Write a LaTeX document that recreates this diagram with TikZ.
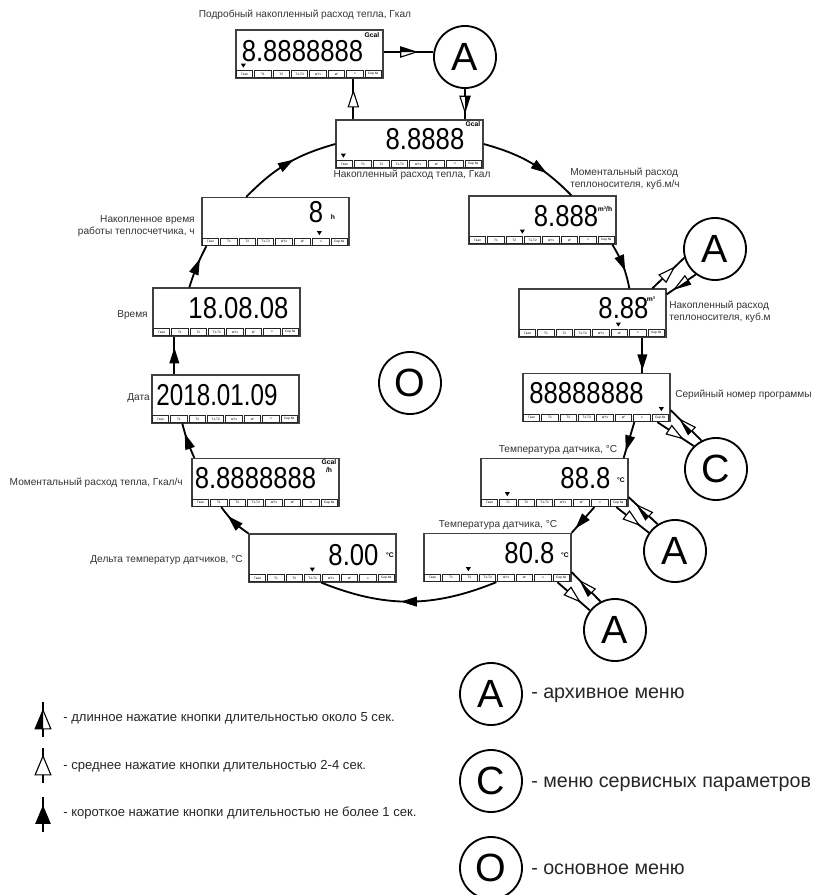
\documentclass[tikz,border=0pt]{standalone}
\usepackage{fontspec}
\setmainfont{Liberation Sans}
\usetikzlibrary{calc,decorations.markings}

\tikzset{
  tiplen/.store in=\tipl, tiplen=5.6pt,
  tipwid/.store in=\tipw, tipwid=3.6pt,
  % short press: filled triangle
  shortpress/.style={postaction={decorate,decoration={markings,mark=at position #1 with {
      \fill (\tipl,0pt) -- (-\tipl,\tipw) -- (-\tipl,-\tipw) -- cycle;}}}},
  shortpress/.default=0.5,
  % medium press: open triangle
  midpress/.style={postaction={decorate,decoration={markings,mark=at position #1 with {
      \filldraw[fill=white,line width=0.8pt] (\tipl,0pt) -- (-\tipl,\tipw) -- (-\tipl,-\tipw) -- cycle;}}}},
  midpress/.default=0.5,
  % long press: half filled triangle
  longpress/.style={postaction={decorate,decoration={markings,mark=at position #1 with {
      \filldraw[fill=white,line width=0.8pt] (\tipl,0pt) -- (-\tipl,\tipw) -- (-\tipl,-\tipw) -- cycle;
      \fill (\tipl,0pt) -- (-\tipl,\tipw) -- (-\tipl,0pt) -- cycle;}}}},
  longpress/.default=0.5,
  conn/.style={line width=1.3pt},
  lcdbox/.style={draw=black!75,line width=0.9pt,minimum width=3.675cm,minimum height=1.2cm,inner sep=0pt},
  lcdcell/.style={draw=black!85,line width=0.6pt,minimum width=0.41cm,minimum height=0.17cm,inner sep=0pt,
      font=\fontsize{2.3}{2.5}\selectfont},
  digits/.style={font=\fontsize{21.5}{22}\selectfont,inner sep=0pt},
  unit/.style={font=\bfseries\fontsize{4.8}{5.2}\selectfont,inner sep=0pt},
  caption/.style={font=\fontsize{7.2}{8.6}\selectfont,text=black!80,inner sep=0pt},
  menu/.style={circle,draw,line width=1.3pt,minimum size=1.55cm,inner sep=0pt,font=\fontsize{28}{28}\selectfont},
  legendtext/.style={font=\fontsize{9.3}{11}\selectfont,text=black!85,inner sep=0pt,anchor=west},
  menutext/.style={font=\fontsize{14}{16}\selectfont,text=black!85,inner sep=0pt,anchor=west}
}

% display with the strip of parameter cells
\newcommand{\lcd}[2]{%
  \node[lcdbox] (#1) at (#2) {};
  \foreach \k/\lab in {1/Гкал,2/T1,3/T2,4/T1-T2,5/{м³/ч},6/м³,7/ч,8/Сер.№}
    \node[lcdcell] (#1-c\k) at ($(#1.south west)+(18.375*\k-9.19,-4.5)$) {\lab};
}
% small marker above the active cell
\newcommand{\lcdmark}[2]{\fill ($(#1.south west)+(#2,-11)$) -- ++(-2.5,-4) -- ++(5,0) -- cycle;}
\newcommand{\seg}[1]{\scalebox{0.85}[1]{#1}}

\begin{document}
\begin{tikzpicture}[x=0.025cm,y=-0.025cm]
\useasboundingbox (0,0) rectangle (814,895);

% the displays
\lcd{b1}{309.5,54}
\lcd{b2}{409.5,144}
\lcd{b3}{542.5,220}
\lcd{b4}{592.5,313}
\lcd{b5}{596.5,397.5}
\lcd{b6}{554.5,482.5}
\lcd{b7}{497.5,557.5}
\lcd{b8}{322.5,558}
\lcd{b9}{265.5,482.5}
\lcd{b10}{225.5,399}
\lcd{b11}{226.5,312}
\lcd{b12}{275.5,221.5}

% values and units
\node[digits] (b1-val) at (302.5,51) {\seg{8.8888888}};
\node[unit] (b1-unit) at (372,35) {Gcal};
\node[digits] (b2-val) at (425,139) {\seg{8.8888}};
\node[unit] (b2-unit) at (473,124) {Gcal};
\node[digits] (b3-val) at (566,216) {\seg{8.888}};
\node[unit] (b3-unit) at (605,209) {m³/h};
\node[digits] (b4-val) at (623.5,308) {\seg{8.88}};
\node[unit] (b4-unit) at (651,299) {m³};
\node[digits] (b5-val) at (586.5,393) {\seg{88888888}};
\node[digits] (b6-val) at (585.5,478) {\seg{88.8}};
\node[unit] (b6-unit) at (621,480) {°C};
\node[digits] (b7-val) at (529.5,553) {\seg{80.8}};
\node[unit] (b7-unit) at (565,555) {°C};
\node[digits] (b8-val) at (353.5,555) {\seg{8.00}};
\node[unit] (b8-unit) at (390,555) {°C};
\node[digits] (b9-val) at (255.5,478) {\seg{8.8888888}};
\node[unit,align=center] (b9-unit) at (329,466) {Gcal\\/h};
\node[digits] (b10-val) at (217,395) {\scalebox{0.8}[1]{2018.01.09}};
\node[digits] (b11-val) at (238.5,308) {\seg{18.08.08}};
\node[digits] (b12-val) at (316,212) {\seg{8}};
\node[unit] (b12-unit) at (333,217) {h};

\lcdmark{b1}{8}
\lcdmark{b2}{8}
\lcdmark{b3}{54}
\lcdmark{b4}{100}
\lcdmark{b5}{139}
\lcdmark{b6}{27}
\lcdmark{b7}{45}
\lcdmark{b8}{64}
\lcdmark{b12}{118}

% captions
\node[caption] (l1) at (305,15) {Подробный накопленный расход тепла, Гкал};
\node[caption] (l2) at (412,175) {Накопленный расход тепла, Гкал};
\node[caption,anchor=west,align=left] (l3) at (570,179) {Моментальный расход\\теплоносителя, куб.м/ч};
\node[caption,anchor=west,align=left] (l4) at (669,312) {Накопленный расход\\теплоносителя, куб.м};
\node[caption,anchor=west] (l5) at (675,395) {Серийный номер программы};
\node[caption] (l6) at (558,450) {Температура датчика, °C};
\node[caption] (l7) at (498,525) {Температура датчика, °C};
\node[caption,anchor=east] (l8) at (243,560) {Дельта температур датчиков, °C};
\node[caption,anchor=east] (l9) at (183,483) {Моментальный расход тепла, Гкал/ч};
\node[caption,anchor=east] (l10) at (150,398) {Дата};
\node[caption,anchor=east] (l11) at (148,315) {Время};
\node[caption,anchor=east,align=right] (l12) at (195,226) {Накопленное время\\работы теплосчетчика, ч};

% menus
\node[menu] (a1) at (465,57) {A};
\node[menu] (a4) at (715,249) {A};
\node[menu] (c5) at (716,469) {C};
\node[menu] (a6) at (675,551) {A};
\node[menu] (a7) at (615,630) {A};
\node[menu] (o) at (410,383) {O};

% main loop
\draw[conn,shortpress] ($(b12.north west)+(45,0)$) to[bend left=15] (b2.west);
\draw[conn,shortpress=0.6] (b2.east) to[bend left=15] ($(b3.north west)+(103,0)$);
\draw[conn,shortpress=0.45] ($(b3.south west)+(144,0)$) to[bend left=10] ($(b4.north west)+(111,0)$);
\draw[conn,shortpress=0.7] ($(b4.south west)+(124,0)$) -- ($(b5.north west)+(120,0)$);
\draw[conn,shortpress=0.6] ($(b5.south west)+(112,0)$) -- ($(b6.north east)+(-5,0)$);
\draw[conn,shortpress=0.6] ($(b6.south west)+(114,0)$) -- (b7.north east);
\draw[conn,shortpress] ($(b7.south west)+(73,0)$) to[bend left=22] ($(b8.south west)+(73,0)$);
\draw[conn,shortpress] (b8.north west) to[bend left=10] ($(b9.south west)+(30,0)$);
\draw[conn,shortpress] ($(b9.north west)+(3,0)$) to[bend left=5] ($(b10.south west)+(31,0)$);
\draw[conn,shortpress] ($(b10.north west)+(23,0)$) -- ($(b11.south west)+(22,0)$);
\draw[conn,shortpress] ($(b11.north west)+(37,0)$) to[bend left=5] ($(b12.south west)+(5,0)$);

% archive and service menus
\coordinate (b2-up) at ($(b2.north west)+(18,0)$);
\draw[conn,midpress] (b2-up) -- (b2-up |- b1.south);
\draw[conn,longpress] (a1.171 -| b1.east) -- (a1.171);
\draw[conn,longpress] (a1.south) -- (a1.south |- b2.north);

\coordinate (b4-a) at ($(b4.north west)+(134,0)$);
\coordinate (b4-b) at ($(b4.north east)+(0,6)$);
\draw[conn,midpress] (b4-a) -- (a4.196);
\draw[conn,longpress] (a4.233) -- (b4-b);

\coordinate (b5-a) at ($(b5.south west)+(135,0)$);
\coordinate (b5-b) at ($(b5.south east)+(0,-12)$);
\draw[conn,midpress] (b5-a) -- (c5.134);
\draw[conn,longpress] (c5.117) -- (b5-b);

\coordinate (b6-a) at ($(b6.south west)+(136,0)$);
\coordinate (b6-b) at ($(b6.south east)+(0,-10)$);
\draw[conn,midpress] (b6-a) -- (a6.145);
\draw[conn,longpress] (a6.123) -- (b6-b);

\coordinate (b7-a) at ($(b7.south west)+(134,0)$);
\coordinate (b7-b) at ($(b7.south east)+(0,-10)$);
\draw[conn,midpress] (b7-a) -- (a7.142);
\draw[conn,longpress] (a7.117) -- (b7-b);

% legend of button presses
\draw[conn,longpress,tiplen=6.7pt,tipwid=5.6pt] (43,737) -- (43,702);
\node[legendtext] (lg1) at (63,718) {- длинное нажатие кнопки длительностью около 5 сек.};
\draw[conn,midpress,tiplen=6.7pt,tipwid=5.6pt] (43,783) -- (43,748);
\node[legendtext] (lg2) at (63,766) {- среднее нажатие кнопки длительностью 2-4 сек.};
\draw[conn,shortpress,tiplen=6.7pt,tipwid=5.6pt] (43,832) -- (43,797);
\node[legendtext] (lg3) at (63,813) {- короткое нажатие кнопки длительностью не более 1 сек.};

% legend of menus
\node[menu] (lga) at (491,694) {A};
\node[menutext] (lgat) at (531,695) {- архивное меню};
\node[menu] (lgc) at (491,781) {C};
\node[menutext] (lgct) at (531,784) {- меню сервисных параметров};
\node[menu] (lgo) at (491,868) {O};
\node[menutext] (lgot) at (531,869) {- основное меню};

\end{tikzpicture}
\end{document}
